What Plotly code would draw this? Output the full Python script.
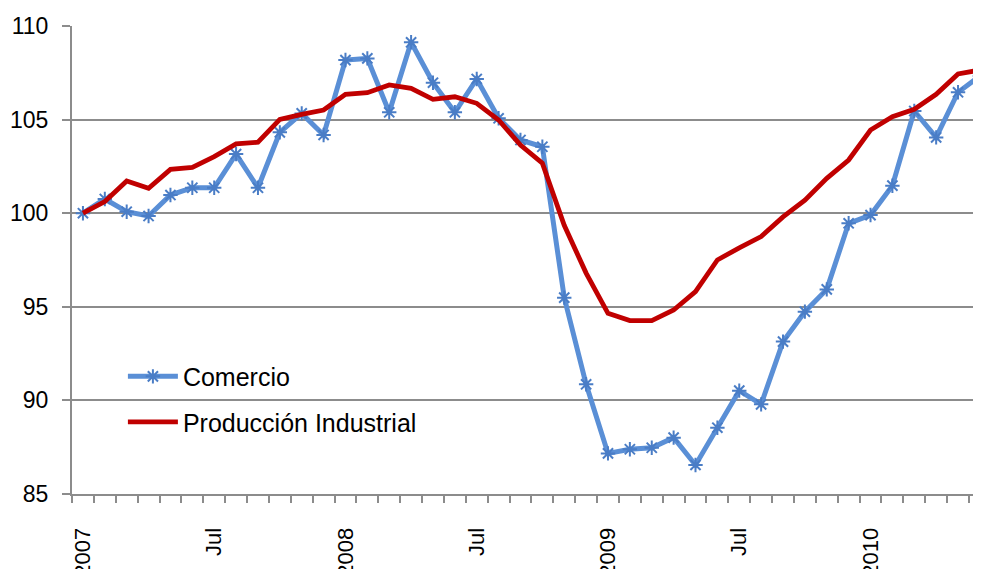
import plotly.graph_objects as go

months = list(range(42))
tick_positions = [0, 6, 12, 18, 24, 30, 36]
tick_labels = ["2007", "Jul", "2008", "Jul", "2009", "Jul", "2010"]

comercio = [100.0, 100.76, 100.08, 99.85, 100.97, 101.36, 101.36, 103.16, 101.36, 104.32,
            105.33, 104.18, 108.18, 108.27, 105.39, 109.13, 106.97, 105.39, 107.17, 105.07,
            103.91, 103.55, 95.49, 90.86, 87.17, 87.39, 87.47, 88.01, 86.55, 88.54,
            90.52, 89.79, 93.14, 94.74, 95.93, 99.46, 99.90, 101.47, 105.46, 104.05,
            106.46, 107.33]

produccion = [100.0, 100.62, 101.72, 101.33, 102.34, 102.45, 103.02, 103.70, 103.79, 105.01,
              105.28, 105.51, 106.35, 106.44, 106.85, 106.67, 106.08, 106.22, 105.87, 104.98,
              103.64, 102.67, 99.35, 96.8, 94.65, 94.26, 94.26, 94.83, 95.81, 97.50,
              98.15, 98.75, 99.80, 100.70, 101.86, 102.84, 104.44, 105.16, 105.55, 106.35,
              107.44, 107.65]

y_ticks = [85, 90, 95, 100, 105, 110]

fig = go.Figure()
fig.add_trace(go.Scatter(
    x=months, y=comercio, name="Comercio", mode="lines+markers",
    line=dict(color="#5A8FD6", width=5),
    marker=dict(symbol="asterisk", size=12, line=dict(color="#4A7DC6", width=2)),
    legendgroup="a",
))
fig.add_trace(go.Scatter(
    x=months, y=produccion, name="Producción Industrial", mode="lines",
    line=dict(color="#C00000", width=4.8),
    legendgroup="b",
))

fig.update_layout(
    width=973, height=561,
    margin=dict(l=64, r=0, t=18, b=75),
    paper_bgcolor="white", plot_bgcolor="white",
    font=dict(family="Liberation Sans, Arial, sans-serif", size=23, color="black"),
    showlegend=True,
    legend=dict(
        x=0.056, y=0.30, xanchor="left", yanchor="top",
        bgcolor="rgba(255,255,255,0)", borderwidth=0,
        font=dict(size=25), itemwidth=50,
        traceorder="grouped", tracegroupgap=10,
    ),
    xaxis=dict(
        range=[-0.5, 41.05], showgrid=False, zeroline=False, automargin=False,
        tickmode="array", tickvals=tick_positions, ticktext=tick_labels,
        tickangle=-90, ticks="", ticklabelstandoff=23,
        showline=True, linecolor="#8C8C8C", linewidth=2,
        minor=dict(ticks="outside", tick0=-0.5, dtick=1, ticklen=7,
                   tickcolor="#8C8C8C", tickwidth=1.5, showgrid=False),
        tickfont=dict(size=22),
    ),
    yaxis=dict(
        range=[85, 110], tickvals=y_ticks, showgrid=True, automargin=False,
        gridcolor="#8C8C8C", gridwidth=1.5, zeroline=False,
        showline=True, linecolor="#8C8C8C", linewidth=2,
        ticks="outside", ticklen=8, tickcolor="#8C8C8C", tickwidth=1.5,
        ticklabelstandoff=9, tickfont=dict(size=23),
    ),
)

fig.write_html("out.html")
